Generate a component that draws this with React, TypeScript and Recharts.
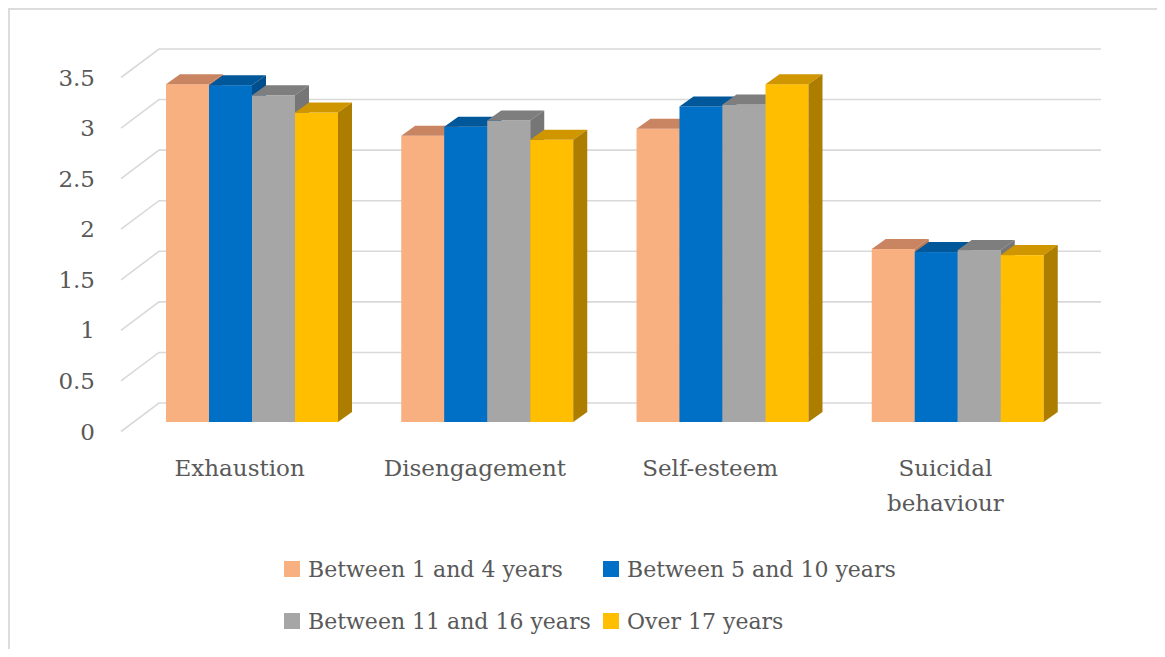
import React from 'react'
import { Bar, BarChart, CartesianGrid, XAxis, YAxis } from 'recharts'

const categories = ['Exhaustion', 'Disengagement', 'Self-esteem', 'Suicidal behaviour']
const between1and4 = [3.34, 2.83, 2.9, 1.71]
const between5and10 = [3.33, 2.92, 3.12, 1.68]
const between11and16 = [3.23, 2.98, 3.14, 1.7]
const over17 = [3.06, 2.79, 3.34, 1.65]
const yTicks = [0, 0.5, 1, 1.5, 2, 2.5, 3, 3.5]

const seriesNames = ['Between 1 and 4 years', 'Between 5 and 10 years', 'Between 11 and 16 years', 'Over 17 years']

const series = [
  { key: 's1', name: seriesNames[0], values: between1and4, front: '#F9B081', top: '#C98562', side: '#B97A58' },
  { key: 's2', name: seriesNames[1], values: between5and10, front: '#0070C6', top: '#00579A', side: '#004F8C' },
  { key: 's3', name: seriesNames[2], values: between11and16, front: '#A6A6A6', top: '#7E7E7E', side: '#767676' },
  { key: 's4', name: seriesNames[3], values: over17, front: '#FFBE00', top: '#CF9600', side: '#AD7D00' },
]

const data = categories.map((name, i) => {
  const row: Record<string, string | number> = { name }
  series.forEach((s) => (row[s.key] = s.values[i]))
  return row
})

const W = 1149
const H = 641
const DX = 14
const DY = 10
const FONT = '"DejaVu Serif", serif'
const TEXT = '#595959'

// back wall / side wall offsets relative to the bars' front plane
const BACK_DY = -19
const FRONT_DY = 9.5
const WALL_LEFT_BACK = 151
const WALL_LEFT_FRONT = 113
const WALL_RIGHT = 1093

function makeShape(top: string, side: string) {
  return (props: any) => {
    const { x, y, width, height, fill } = props
    if (!width || height == null) return <g />
    const b = y + height
    return (
      <g>
        <rect x={x} y={y} width={width} height={height} fill={fill} />
        <polygon
          points={`${x},${y} ${x + DX},${y - DY} ${x + width + DX},${y - DY} ${x + width},${y}`}
          fill={top}
        />
        <polygon
          points={`${x + width},${y} ${x + width + DX},${y - DY} ${x + width + DX},${b - DY} ${x + width},${b}`}
          fill={side}
        />
      </g>
    )
  }
}

const gridLine = (p: any) => {
  const y = p.y1
  return (
    <path
      key={`g-${p.index}-${y}`}
      d={`M${WALL_LEFT_FRONT},${y + FRONT_DY} L${WALL_LEFT_BACK},${y + BACK_DY} L${WALL_RIGHT},${y + BACK_DY}`}
      stroke="#D9D9D9"
      strokeWidth={1.6}
      fill="none"
    />
  )
}

const YTick = (props: any) => {
  const { y, payload } = props
  return (
    <text x={87} y={y + FRONT_DY} textAnchor="end" dominantBaseline="central" fill={TEXT} fontFamily={FONT} fontSize={23}>
      {String(payload.value)}
    </text>
  )
}

const XTick = (props: any) => {
  const { x, payload } = props
  const value = String(payload.value)
  const lines = value === 'Suicidal behaviour' ? ['Suicidal', 'behaviour'] : [value]
  return (
    <text x={x - 12} y={460} textAnchor="middle" fill={TEXT} fontFamily={FONT} fontSize={23}>
      {lines.map((l, i) => (
        <tspan key={l} x={x - 12} dy={i === 0 ? 8 : 35}>
          {l}
        </tspan>
      ))}
    </text>
  )
}

export default function App() {
  return (
    <div style={{ position: 'relative', width: W, height: H, background: '#fff', overflow: 'hidden' }}>
      <div
        style={{
          position: 'absolute',
          left: 0,
          top: 0,
          width: W + 20,
          height: H + 20,
          borderTop: '2px solid #DCDCDC',
          borderLeft: '2px solid #DCDCDC',
          pointerEvents: 'none',
        }}
      />
      <BarChart
        width={W}
        height={H}
        data={data}
        margin={{ top: 60, right: 82, bottom: 187, left: 66 }}
        barCategoryGap="13.6%"
        barGap={0}
      >
        <CartesianGrid vertical={false} horizontal={gridLine} />
        <XAxis dataKey="name" axisLine={false} tickLine={false} height={40} tick={<XTick />} interval={0} />
        <YAxis
          type="number"
          domain={[0, 3.5]}
          ticks={yTicks}
          width={60}
          axisLine={false}
          tickLine={false}
          tick={<YTick />}
        />
        {series.map((s) => (
          <Bar
            key={s.key}
            dataKey={s.key}
            name={s.name}
            fill={s.front}
            isAnimationActive={false}
            shape={makeShape(s.top, s.side)}
          />
        ))}
      </BarChart>
      <div
        style={{
          position: 'absolute',
          left: 276,
          top: 546,
          display: 'grid',
          gridTemplateColumns: '319px auto',
          rowGap: 22,
          fontFamily: FONT,
          fontSize: 22,
          color: TEXT,
        }}
      >
        {series.map((s) => (
          <div key={s.key} style={{ display: 'flex', alignItems: 'center', height: 30, whiteSpace: 'nowrap' }}>
            <span style={{ width: 16, height: 16, background: s.front, marginRight: 8, display: 'inline-block' }} />
            {s.name}
          </div>
        ))}
      </div>
    </div>
  )
}
